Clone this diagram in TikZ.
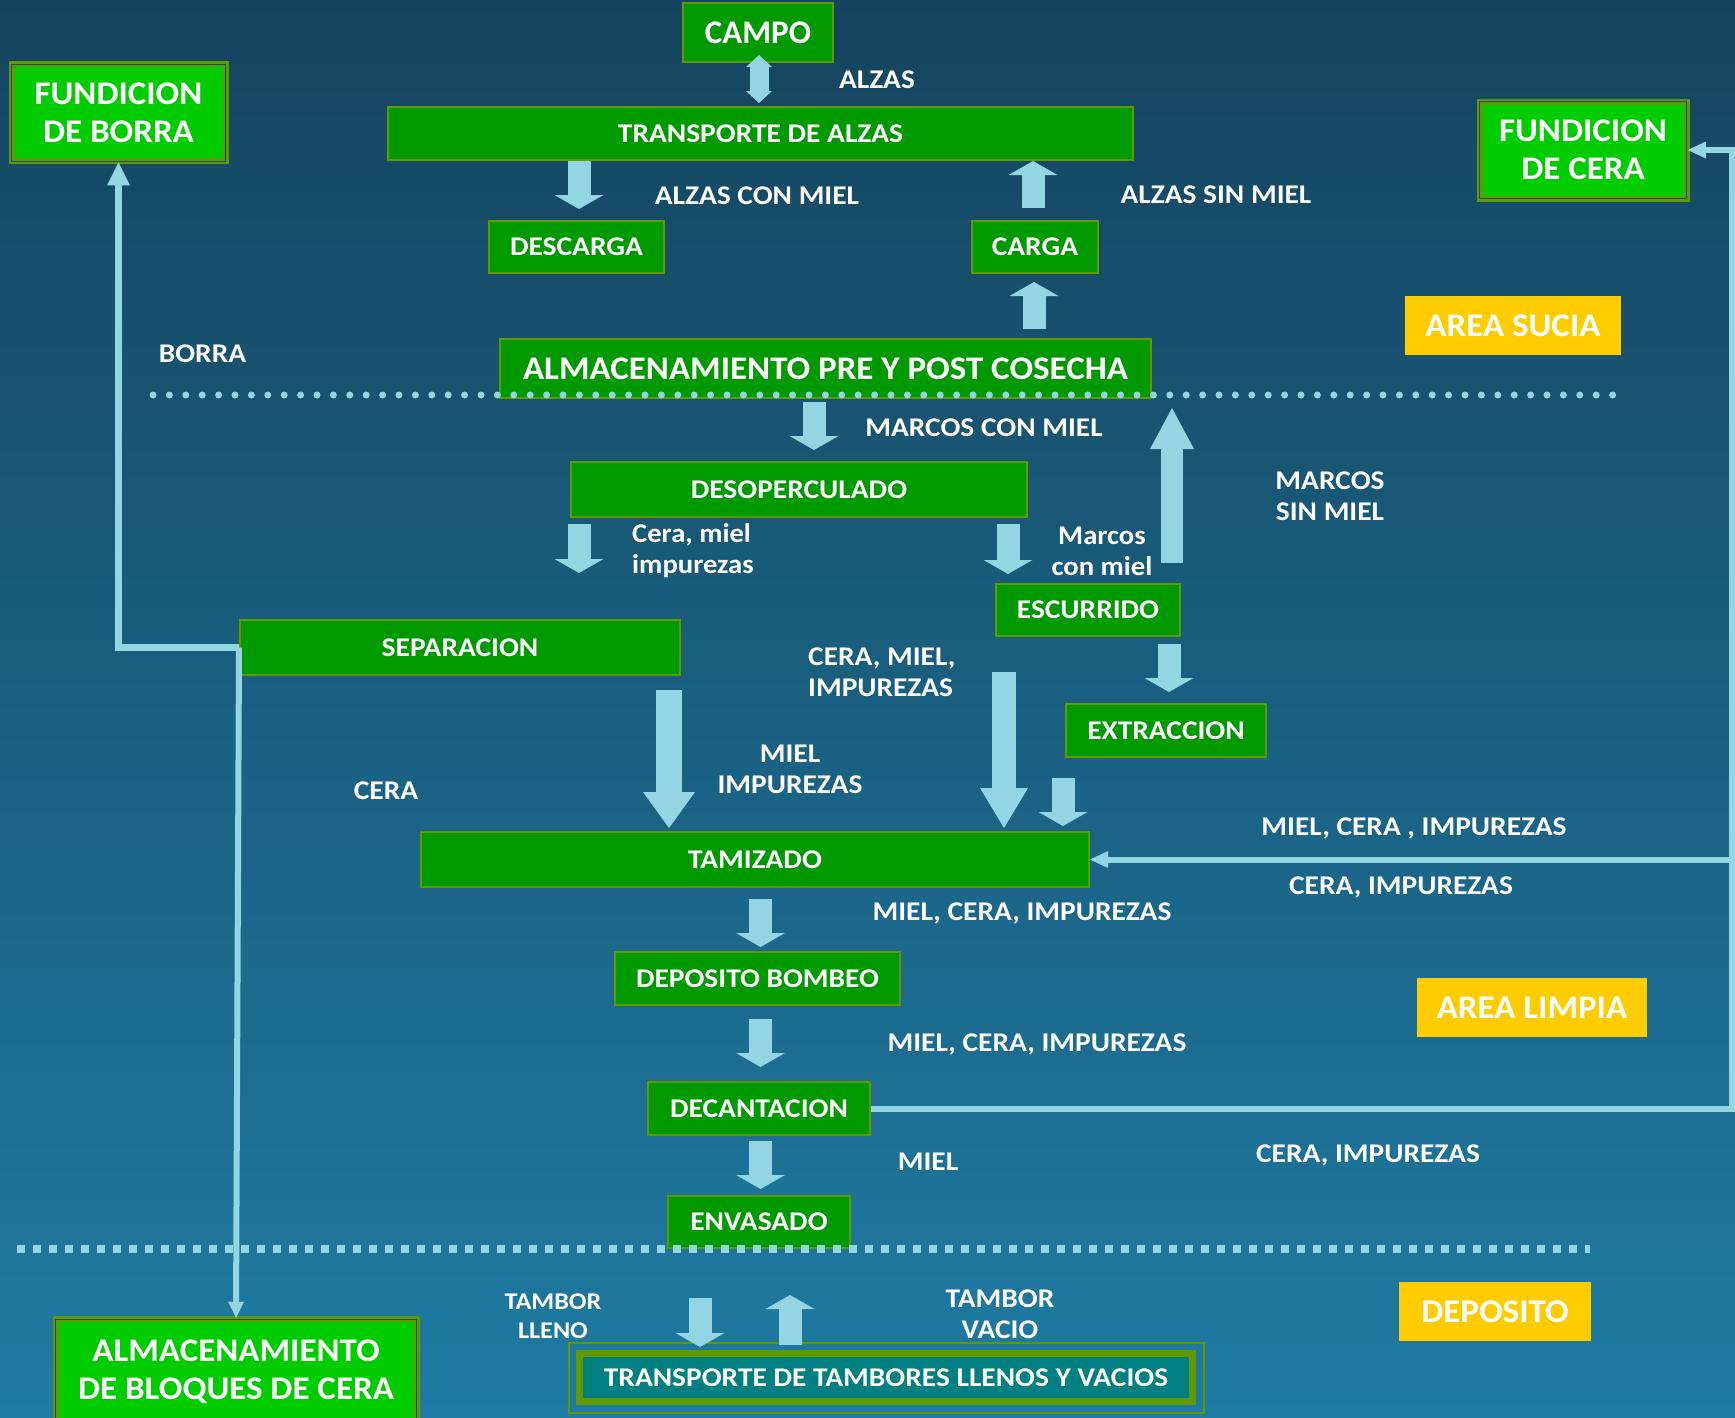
\documentclass[tikz,border=0pt]{standalone}
\usepackage{fontspec}
\setmainfont{Carlito}[FakeStretch=1.09]
\newfontfamily\bigfam{Carlito}[FakeStretch=1.06]
\newfontfamily\plainfam{Carlito}
\usetikzlibrary{arrows.meta,calc}
\definecolor{bgtop}{HTML}{15445E}
\definecolor{bgbot}{HTML}{1F7BA2}
\definecolor{arrowc}{HTML}{93D5E3}
\definecolor{boxfill}{HTML}{009900}
\definecolor{boxline}{HTML}{5F9A00}
\definecolor{brightg}{HTML}{00CC00}
\definecolor{areay}{HTML}{FFCC00}
\definecolor{tealf}{HTML}{008080}
\definecolor{gapblue}{HTML}{1A4E6E}
\newcommand\fsLab{\fontsize{27}{31}\selectfont\bfseries}
\newcommand\fsLow{\bigfam\fontsize{27}{31}\selectfont\bfseries}
\newcommand\fsSmall{\fontsize{24}{29}\selectfont\bfseries}
\newcommand\fsBig{\bigfam\fontsize{33}{38}\selectfont\bfseries}
\newcommand\fsCampo{\plainfam\fontsize{33}{38}\selectfont\bfseries}
\begin{document}
\begin{tikzpicture}[x=1pt,y=-1pt,
  gbox/.style={fill=boxfill, draw=boxline, line width=2pt, text=white, font=\fsLab, inner sep=0pt, align=center},
  fbox/.style={fill=brightg, draw=boxline, line width=2.5pt, double=gapblue, double distance=1pt, text=white, font=\fsBig, inner sep=0pt, align=center},
  abox/.style={fill=areay, text=white, font=\fsBig, inner sep=0pt},
  lab/.style={text=white, font=\fsLab, inner sep=0pt, align=center},
  barrow/.style={draw=arrowc, line width=23pt, -{Triangle[width=49pt,length=14pt,line width=0pt]}},
  bigarrow/.style={draw=arrowc, line width=24pt, -{Triangle[width=48pt,length=40pt,line width=0pt]}},
  dblarrow/.style={draw=arrowc, line width=19pt, {Triangle[width=26pt,length=12pt,line width=0pt]}-{Triangle[width=26pt,length=12pt,line width=0pt]}},
  tline/.style={draw=arrowc, line width=6pt, -{Triangle[width=17pt,length=18pt,line width=0pt]}},
  dotline/.style={draw=arrowc, line width=7pt, line cap=round, dash pattern=on 0pt off 16.4pt},
  sqline/.style={draw=arrowc, line width=8pt, dash pattern=on 8pt off 8pt}
]
\useasboundingbox (0,0) rectangle (1735,1417);
\fill[top color=bgtop, bottom color=bgbot] (0,0) rectangle (1735,1417);

% boxes
\node[gbox, font=\fsCampo, minimum width=150pt, minimum height=59pt] (campo) at (758,32.5) {CAMPO};
\node[gbox, minimum width=745pt, minimum height=53pt] (trans) at (760.5,133.5) {TRANSPORTE DE ALZAS};
\node[gbox, minimum width=175pt, minimum height=52pt] (desc) at (576.5,247) {DESCARGA};
\node[gbox, font=\fsBig, minimum width=651pt, minimum height=59pt] (almpre) at (825.5,368.5) {ALMACENAMIENTO PRE Y POST COSECHA};
\node[gbox, minimum width=126pt, minimum height=52pt] (carga) at (1035,247) {CARGA};
\node[gbox, minimum width=456pt, minimum height=55pt] (desop) at (799,489.5) {DESOPERCULADO};
\node[gbox, minimum width=184pt, minimum height=52pt] (escurr) at (1088,610) {ESCURRIDO};
\node[gbox, minimum width=200pt, minimum height=53pt] (extrac) at (1166,730.5) {EXTRACCION};
\node[gbox, minimum width=440pt, minimum height=55pt] (sep) at (460,647.5) {SEPARACION};
\node[gbox, minimum width=668pt, minimum height=55pt] (tam) at (755,859.5) {TAMIZADO};
\node[gbox, minimum width=285pt, minimum height=53pt] (depb) at (757.5,978.5) {DEPOSITO BOMBEO};
\node[gbox, minimum width=222pt, minimum height=53pt] (decant) at (759,1108.5) {DECANTACION};
\node[gbox, minimum width=182pt, minimum height=52pt] (envas) at (759,1222) {ENVASADO};
\node[fbox, minimum width=214pt, minimum height=97pt] (fborra) at (118.5,112.5) {FUNDICION\\DE BORRA};
\node[fbox, minimum width=207pt, minimum height=97pt] (fcera) at (1583,150) {FUNDICION\\DE CERA};
\node[fbox, minimum width=361pt, minimum height=106pt] (almb) at (236,1372) {ALMACENAMIENTO\\DE BLOQUES DE CERA};
\node[gbox, fill=tealf, line width=7pt, minimum width=613pt, minimum height=48pt] (ttamb) at (886,1377.5) {TRANSPORTE DE TAMBORES LLENOS Y VACIOS};
\draw[boxline, line width=2pt] ($(ttamb.north west)+(-7.5,-7.5)$) rectangle ($(ttamb.south east)+(7.5,7.5)$);
\node[abox, minimum width=216pt, minimum height=59pt] (asucia) at (1513,325.5) {AREA SUCIA};
\node[abox, minimum width=230pt, minimum height=59pt] (alimpia) at (1532,1007.5) {AREA LIMPIA};
\node[abox, minimum width=192pt, minimum height=59pt] (adep) at (1495,1311.5) {DEPOSITO};

% labels
\node[lab] (lalzas) at (877,80) {ALZAS};
\node[lab] (lacm) at (757,196) {ALZAS CON MIEL};
\node[lab] (lasm) at (1216,195) {ALZAS SIN MIEL};
\node[lab] (lborra) at (202.5,354) {BORRA};
\node[lab] (lmcm) at (984,428) {MARCOS CON MIEL};
\node[lab, font=\fsLow, align=left, anchor=west] (lcmi) at (632,551) {Cera, miel\\impurezas};
\node[lab, font=\fsLow] (lmcm2) at (1102,551) {Marcos\\con miel};
\node[lab] (lmsm) at (1330,496) {MARCOS\\SIN MIEL};
\node[lab, align=left, anchor=west] (lcmi2) at (808,672) {CERA, MIEL,\\IMPUREZAS};
\node[lab] (lmi) at (790,769) {MIEL\\IMPUREZAS};
\node[lab] (lcera) at (386,791) {CERA};
\node[lab] (lmci1) at (1414,828) {MIEL, CERA , IMPUREZAS};
\node[lab] (lci1) at (1401,887) {CERA, IMPUREZAS};
\node[lab] (lmci2) at (1022,913) {MIEL, CERA, IMPUREZAS};
\node[lab] (lmci3) at (1037,1044) {MIEL, CERA, IMPUREZAS};
\node[lab] (lmiel) at (928,1162) {MIEL};
\node[lab] (lci2) at (1368,1155) {CERA, IMPUREZAS};
\node[lab, font=\fsSmall] (ltll) at (553,1316) {TAMBOR\\LLENO};
\node[lab] (ltva) at (1000,1314) {TAMBOR\\VACIO};

% block arrows
\draw[dblarrow] ($(campo.south)+(1,-8)$) -- ($(campo.south |- trans.north)+(1,-3)$);
\draw[barrow] ($(desc.north |- trans.south)+(2.5,0)$) -- ($(desc.north)+(2.5,-11)$);
\draw[barrow] ($(carga.north)+(-2,-12)$) -- ($(carga.north |- trans.south)+(-2,0)$);
\draw[barrow] ($(carga.south |- almpre.north)+(-1,-9)$) -- ($(carga.south)+(-1,8)$);
\draw[barrow] ($(desop.north |- almpre.south)+(15,3)$) -- ($(desop.north)+(15,-11)$);
\draw[barrow] ($(desop.south west)+(9,6)$) -- ($(desop.south west)+(9,55)$);
\draw[barrow] ($(desop.south east)+(-20,6)$) -- ($(desop.south east)+(-20,56)$);
\draw[bigarrow, line width=22.5pt, -{Triangle[width=44pt,length=41pt,line width=0pt]}] ($(escurr.north)+(84,-20)$) -- ($(escurr.north |- almpre.south)+(84,9)$);
\draw[barrow] ($(extrac.north |- escurr.south)+(3,7)$) -- ($(extrac.north)+(3,-11)$);
\draw[bigarrow] ($(tam.north)+(249,-159)$) -- ($(tam.north)+(249,-3)$);
\draw[bigarrow, line width=26.5pt, -{Triangle[width=52pt,length=36pt,line width=0pt]}] ($(sep.south)+(209,14)$) -- ($(sep.south |- tam.north)+(209,-3)$);
\draw[barrow] ($(extrac.south)+(-103,20)$) -- ($(extrac.south |- tam.north)+(-103,-5)$);
\draw[barrow] ($(depb.north |- tam.south)+(3,11)$) -- ($(depb.north)+(3,-4)$);
\draw[barrow] ($(decant.north |- depb.south)+(1.5,13)$) -- ($(decant.north)+(1.5,-14)$);
\draw[barrow] ($(envas.north |- decant.south)+(1.5,5)$) -- ($(envas.north)+(1.5,-6)$);
\draw[barrow] ($(ttamb.north)+(-186,-52)$) -- ($(ttamb.north)+(-186,-3)$);
\draw[barrow] ($(ttamb.north)+(-96,-5)$) -- ($(ttamb.north)+(-96,-55)$);

% thin connectors
\coordinate (rx) at (1732,0);
\draw[tline] (decant.east) -- (decant.east -| rx) |- (fcera.east);
\draw[tline] (tam.east -| rx) -- (tam.east);
\draw[tline, line width=7pt, -{Triangle[width=23pt,length=23pt,line width=0pt]}] (sep.west) -| (fborra.south);
\draw[tline, -{Triangle[width=16pt,length=16pt,line width=0pt]}] (sep.west) -- (almb.north);

% area separators
\coordinate (d1a) at (153,395);
\coordinate (d1b) at (1620,395);
\draw[dotline] (d1a) -- (d1b);
\coordinate (d2a) at (17,1249);
\coordinate (d2b) at (1590,1249);
\draw[sqline] (d2a) -- (d2b);
\end{tikzpicture}
\end{document}
